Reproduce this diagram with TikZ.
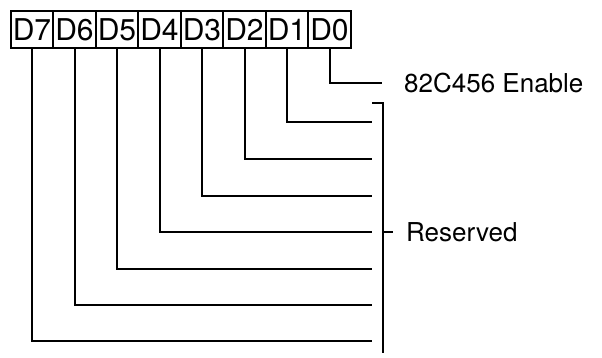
\documentclass[tikz,border=0pt]{standalone}
\usepackage{fontspec}
\setmainfont{TeX Gyre Heros}
\usetikzlibrary{positioning}
\tikzset{bit/.style={rectangle,draw,line width=1.6pt,minimum width=42.5pt,minimum height=37pt,inner sep=0pt,font=\fontsize{30}{32}\selectfont},
  wire/.style={line width=2pt},
  lbl/.style={anchor=west,inner sep=0pt,font=\fontsize{26}{30}\selectfont}}
\begin{document}
\begin{tikzpicture}[x=1pt,y=-1pt]
\useasboundingbox (0,0) rectangle (602,358);
\node (d7) at (32,29.5) [bit] {D7};
\node (d6) at (74.5,29.5) [bit] {D6};
\node (d5) at (117,29.5) [bit] {D5};
\node (d4) at (159.5,29.5) [bit] {D4};
\node (d3) at (202,29.5) [bit] {D3};
\node (d2) at (244.5,29.5) [bit] {D2};
\node (d1) at (287,29.5) [bit] {D1};
\node (d0) at (329.5,29.5) [bit] {D0};

\coordinate (e0) at (382,83);
\coordinate (e1) at (372,122);
\coordinate (e2) at (372,159);
\coordinate (e3) at (372,196);
\coordinate (e4) at (372,232);
\coordinate (e5) at (372,269);
\coordinate (e6) at (372,305);
\coordinate (e7) at (372,341);
\draw [wire] (d0.south) |- (e0);
\draw [wire] (d1.south) |- (e1);
\draw [wire] (d2.south) |- (e2);
\draw [wire] (d3.south) |- (e3);
\draw [wire] (d4.south) |- (e4);
\draw [wire] (d5.south) |- (e5);
\draw [wire] (d6.south) |- (e6);
\draw [wire] (d7.south) |- (e7);

\node (en) at (404,83) [lbl] {82C456 Enable};

% bracket for reserved bits
\coordinate (btop) at (372,103);
\coordinate (bbot) at (383,353);
\coordinate (tick) at (383,232);
\coordinate (tickend) at (393,232);
\draw [wire] (btop) -| (bbot);
\draw [wire] (tick) -- (tickend);
\node (res) at (406,232) [lbl] {Reserved};
\end{tikzpicture}
\end{document}
